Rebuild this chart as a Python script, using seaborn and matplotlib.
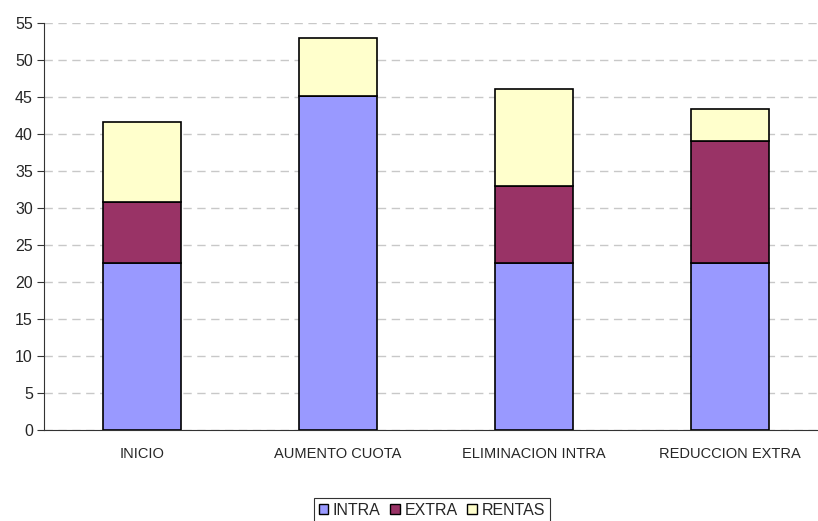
import numpy as np
import pandas as pd
import seaborn as sns
import matplotlib.pyplot as plt
from matplotlib.patches import Patch

# --- datos
categorias = ["INICIO", "AUMENTO CUOTA", "ELIMINACION INTRA", "REDUCCION EXTRA"]
intra = [22.6, 45.1, 22.6, 22.6]
extra = [8.2, 0.0, 10.4, 16.4]
rentas = [10.8, 7.9, 13.1, 4.4]
series = ["INTRA", "EXTRA", "RENTAS"]
colores = ["#9999FF", "#993366", "#FFFFCC"]

sns.set_style("white")
plt.rcParams["font.family"] = ["Liberation Sans", "DejaVu Sans"]

fig = plt.figure(figsize=(8.18, 5.21), dpi=100)
ax = fig.add_axes([44 / 818, 1 - 430 / 521, 774 / 818, 407 / 521])

base = np.zeros(len(categorias))
for nombre, vals, col in zip(series, [intra, extra, rentas], colores):
    df = pd.DataFrame({"cat": categorias, "val": vals})
    sns.barplot(data=df, x="cat", y="val", color=col, bottom=base.copy(),
                width=0.4, edgecolor="black", linewidth=1.2, saturation=1,
                ax=ax, zorder=3)
    base += np.array(vals)

ax.set_ylim(0, 55)
ax.set_yticks(range(0, 56, 5))
ax.set_xlim(-0.5, 3.45)
ax.set_xlabel("")
ax.set_ylabel("")
ax.yaxis.grid(True, color="#c8c8c8", linestyle=(0, (6, 4)), linewidth=1)
ax.set_axisbelow(True)
sns.despine(ax=ax, top=True, right=True)
ax.spines["left"].set_color("#333333")
ax.spines["bottom"].set_color("#333333")
ax.tick_params(axis="y", which="major", left=True, length=5, color="#333333",
               labelsize=11.5, pad=3)
ax.tick_params(axis="x", bottom=False, labelsize=10.5, pad=9)

handles = [Patch(facecolor=c, edgecolor="black", linewidth=1) for c in colores]
leg = fig.legend(handles, series, loc="upper center", bbox_to_anchor=(0.528, 0.06),
                 ncol=3, fontsize=11.5, frameon=True, fancybox=False,
                 edgecolor="black", handlelength=0.6, handleheight=0.6,
                 handletextpad=0.3, columnspacing=0.6, borderpad=0.3)
leg.get_frame().set_linewidth(0.8)

fig.savefig("out.png", dpi=100)
